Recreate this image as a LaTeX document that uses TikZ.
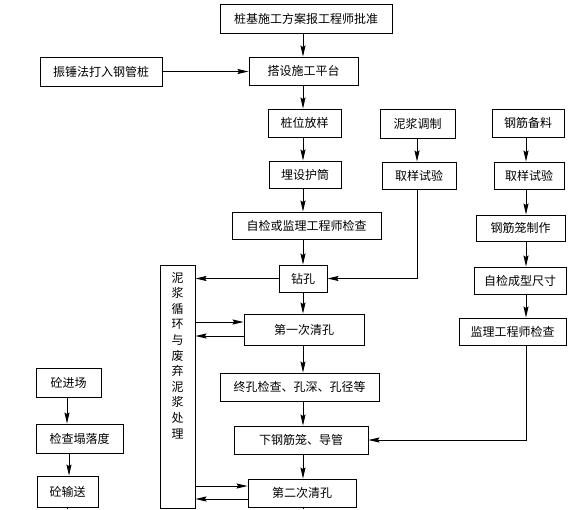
\documentclass[tikz,border=0pt]{standalone}
\usepackage{fontspec}
\newfontfamily\cjk{Noto Sans CJK SC}
\usetikzlibrary{arrows.meta}
\begin{document}
\begin{tikzpicture}[x=1pt,y=-1pt,
 box/.style={draw, line width=0.9pt, inner sep=0pt, font=\cjk\fontsize{12}{14}\selectfont},
 arr/.style={line width=0.9pt, -{Stealth[length=11pt,width=5pt,inset=1.5pt]}},
 ln/.style={line width=0.9pt}]
\useasboundingbox (0,0) rectangle (585,509);
% boxes
\node[box, minimum width=172pt, minimum height=29pt] (top) at (306,18.5) {桩基施工方案报工程师批准};
\node[box, minimum width=109pt, minimum height=28pt] (dashe) at (303.5,71) {搭设施工平台};
\node[box, minimum width=122pt, minimum height=29pt] (zhenchui) at (101,71.5) {振锤法打入钢管桩};
\node[box, minimum width=73pt, minimum height=28pt] (zhuangwei) at (304.5,123) {桩位放样};
\node[box, minimum width=72pt, minimum height=27pt] (maishe) at (305,174.5) {埋设护筒};
\node[box, minimum width=75pt, minimum height=29pt] (nijiang) at (417.5,123.5) {泥浆调制};
\node[box, minimum width=74pt, minimum height=27pt] (quyang1) at (419,175.5) {取样试验};
\node[box, minimum width=72pt, minimum height=28pt] (gangjin) at (528,123) {钢筋备料};
\node[box, minimum width=70pt, minimum height=27pt] (quyang2) at (529,175.5) {取样试验};
\node[box, minimum width=149pt, minimum height=27pt] (zijian) at (306.5,225.5) {自检或监理工程师检查};
\node[box, minimum width=48pt, minimum height=27pt] (zuankong) at (303,278.5) {钻孔};
\node[box, minimum width=35pt, minimum height=243pt] (big) at (177.5,386.5) {};
\node[font=\cjk\fontsize{12}{15.6}\selectfont, align=center, anchor=north, inner sep=0pt] (bigtext) at (177.5,272) {泥\\浆\\循\\环\\与\\废\\弃\\泥\\浆\\处\\理};
\node[box, minimum width=120pt, minimum height=31pt] (qing1) at (304,329.5) {第一次清孔};
\node[box, minimum width=89pt, minimum height=26pt] (longzhizuo) at (520.5,228) {钢筋笼制作};
\node[box, minimum width=92pt, minimum height=27pt] (chengxing) at (520,280.5) {自检成型尺寸};
\node[box, minimum width=107pt, minimum height=27pt] (jianli) at (512.5,331.5) {监理工程师检查};
\node[box, minimum width=65pt, minimum height=29pt] (tongjin) at (68.5,382.5) {砼进场};
\node[box, minimum width=87pt, minimum height=29pt] (tanluodu) at (79.5,438.5) {检查塌落度};
\node[box, minimum width=61pt, minimum height=31pt] (shusong) at (67.5,491.5) {砼输送};
\node[box, minimum width=159pt, minimum height=28pt] (zhongkong) at (299.5,387) {终孔检查、孔深、孔径等};
\node[box, minimum width=134pt, minimum height=28pt] (xia) at (301,440) {下钢筋笼、导管};
\node[box, minimum width=108pt, minimum height=28pt] (qing2) at (302,493) {第二次清孔};
% helper coordinates
\coordinate (mx) at (303,0);
\coordinate (nx) at (417,0);
\coordinate (rx) at (526,0);
\coordinate (lx) at (67,0);
\coordinate (lx2) at (69,0);
\coordinate (bot) at (0,509);
\coordinate (ya) at (0,322);
\coordinate (yb) at (0,336);
\coordinate (yc) at (0,486);
\coordinate (yd) at (0,499);
% main column
\draw[arr] (top.south -| mx) -- (dashe.north -| mx);
\draw[arr] (zhenchui.east) -- (zhenchui.east -| dashe.west);
\draw[arr] (dashe.south -| mx) -- (zhuangwei.north -| mx);
\draw[arr] (zhuangwei.south -| mx) -- (maishe.north -| mx);
\draw[arr] (maishe.south -| mx) -- (zijian.north -| mx);
\draw[arr] (zijian.south -| mx) -- (zuankong.north -| mx);
\draw[arr] (zuankong.south -| mx) -- (qing1.north -| mx);
\draw[arr] (qing1.south -| mx) -- (zhongkong.north -| mx);
\draw[arr] (zhongkong.south -| mx) -- (xia.north -| mx);
\draw[arr] (xia.south -| mx) -- (qing2.north -| mx);
\draw[ln] (qing2.south -| mx) -- (bot -| mx);
% mud column
\draw[arr] (nijiang.south -| nx) -- (quyang1.north -| nx);
\draw[arr] (quyang1.south -| nx) |- (zuankong.east);
% mud circulation
\draw[arr] (zuankong.west) -- (zuankong.west -| big.east);
\draw[arr] (big.east |- ya) -- (qing1.west |- ya);
\draw[arr] (qing1.west |- yb) -- (big.east |- yb);
\draw[arr] (big.east |- yc) -- (qing2.west |- yc);
\draw[arr] (qing2.west |- yd) -- (big.east |- yd);
% rebar column
\draw[arr] (gangjin.south -| rx) -- (quyang2.north -| rx);
\draw[arr] (quyang2.south -| rx) -- (longzhizuo.north -| rx);
\draw[arr] (longzhizuo.south -| rx) -- (chengxing.north -| rx);
\draw[arr] (chengxing.south -| rx) -- (jianli.north -| rx);
\draw[arr] (jianli.south -| rx) |- (xia.east);
% concrete column
\draw[arr] (tongjin.south -| lx) -- (tanluodu.north -| lx);
\draw[arr] (tanluodu.south -| lx2) -- (shusong.north -| lx2);
\draw[ln] (shusong.south -| lx) -- (bot -| lx);
\end{tikzpicture}
\end{document}
